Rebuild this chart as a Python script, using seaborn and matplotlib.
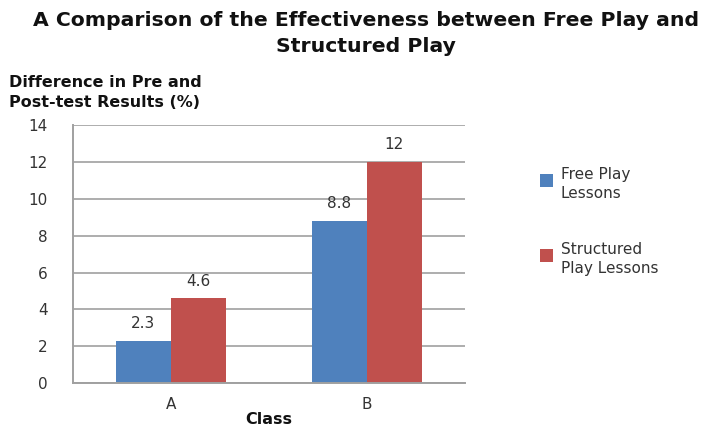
import matplotlib
matplotlib.use("Agg")
import matplotlib.pyplot as plt
import seaborn as sns
import pandas as pd
from matplotlib.ticker import FixedLocator
from matplotlib.patches import Rectangle
from matplotlib.legend_handler import HandlerPatch

classes = ["A", "B"]
free_play = [2.3, 8.8]
structured_play = [4.6, 12]
series_names = ["Free Play\nLessons", "Structured\nPlay Lessons"]
colors = ["#4F81BD", "#C0504D"]

df = pd.DataFrame({
    "Class": classes * 2,
    "Value": free_play + structured_play,
    "Series": [series_names[0]] * 2 + [series_names[1]] * 2,
})

sns.set_style("white")
plt.rcParams["font.family"] = ["DejaVu Sans"]

fig = plt.figure(figsize=(7.14, 4.3), dpi=100)
ax = fig.add_axes([0.102, 0.109, 0.549, 0.600])

sns.barplot(data=df, x="Class", y="Value", hue="Series", palette=colors,
            width=0.56, gap=0, ax=ax, saturation=1, edgecolor="none")

tick_color = "#333333"
ax.set_ylim(0, 14)
ax.set_xlim(-0.5, 1.5)
ax.set_yticks(range(0, 15, 2))
ax.yaxis.grid(True, color="#A0A0A0", linewidth=1.2)
ax.set_axisbelow(True)
for s in ["top", "right"]:
    ax.spines[s].set_visible(False)
for s in ["left", "bottom"]:
    ax.spines[s].set_color("#A0A0A0")
    ax.spines[s].set_linewidth(1.4)

ax.tick_params(axis="y", length=6, width=1.2, color="#A0A0A0", labelsize=11, labelcolor=tick_color, pad=12)
ax.tick_params(axis="x", which="major", length=0, labelsize=11, labelcolor=tick_color, pad=10)
ax.xaxis.set_minor_locator(FixedLocator([0.5]))
ax.tick_params(axis="x", which="minor", length=6, width=1.2, color="#A0A0A0", direction="out")

for cont in ax.containers:
    ax.bar_label(cont, labels=[f"{v:g}" for v in cont.datavalues], padding=7,
                 fontsize=11, color=tick_color)

ax.set_ylabel("")
ax.set_xlabel("Class", fontsize=11.5, fontweight="bold", color="#111111", labelpad=0)

fig.text(0.512, 0.975, "A Comparison of the Effectiveness between Free Play and\nStructured Play",
         ha="center", va="top", fontsize=14.7, fontweight="bold", color="#111111",
         linespacing=1.45)
fig.text(0.013, 0.785, "Difference in Pre and\nPost-test Results (%)", ha="left", va="center",
         fontsize=11.5, fontweight="bold", color="#111111", linespacing=1.35)


def top_square(legend, orig_handle, xdescent, ydescent, width, height, fontsize):
    s = 0.85 * fontsize
    return Rectangle((-xdescent, -ydescent + height - s), s, s)


leg = ax.legend(loc="upper left", bbox_to_anchor=(1.175, 0.86), frameon=False,
                fontsize=11, labelspacing=2.7, handlelength=0.85, handleheight=1.9,
                handletextpad=0.55, borderaxespad=0,
                handler_map={Rectangle: HandlerPatch(patch_func=top_square)})
for t in leg.get_texts():
    t.set_color(tick_color)
    t.set_linespacing(1.3)

fig.savefig("out.png", dpi=100)
